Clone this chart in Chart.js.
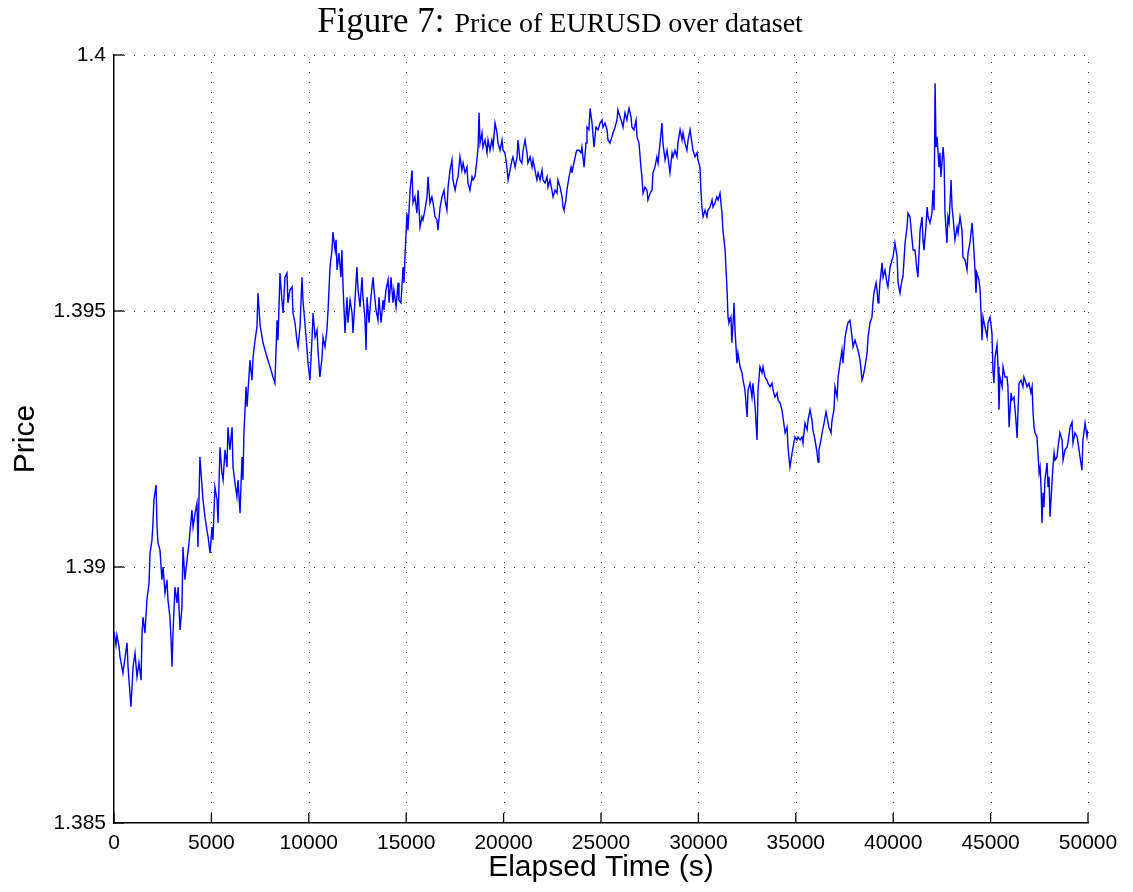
<!DOCTYPE html>
<html>
<head>
<meta charset="utf-8">
<script src="https://cdn.jsdelivr.net/npm/chart.js@4/dist/chart.umd.min.js"></script>
<style>
  html, body { margin: 0; padding: 0; background: #fff; }
  #wrap { width: 1133px; height: 892px; }
</style>
</head>
<body>
<div id="wrap"><canvas id="c" width="1133" height="892"></canvas></div>
<script>
// ---- Data ----
const titleLead = "Figure 7:";
const titleRest = "Price of EURUSD over dataset";
const xAxisTitle = "Elapsed Time (s)";
const yAxisTitle = "Price";

const xTickValues = [0, 5000, 10000, 15000, 20000, 25000, 30000, 35000, 40000, 45000, 50000];
const xTickLabels = ["0", "5000", "10000", "15000", "20000", "25000", "30000", "35000", "40000", "45000", "50000"];
const yTickValues = [1.385, 1.39, 1.395, 1.4];
const yTickLabels = ["1.385", "1.39", "1.395", "1.4"];

// elapsed time (s)
const times = [
0,100,150,260,310,460,670,720,870,980,1080,1180,1280,1390,1440,1490,1590,1690,1800,1850,
1950,2000,2050,2160,2210,2260,2360,2460,2520,2620,2720,2770,2870,2930,2980,3030,3130,3230,3290,3390,
3490,3540,3640,3750,3850,4000,4060,4160,4260,4310,4410,4520,4570,4670,4770,4830,4930,5030,5080,5180,
5290,5340,5440,5540,5600,5700,5800,5850,5950,6060,6110,6210,6310,6370,6470,6570,6620,6670,6780,6830,
6980,7080,7140,7240,7340,7390,7500,7650,7850,8010,8160,8260,8370,8420,8520,8620,8680,8780,8880,8930,
9030,9140,9190,9290,9390,9450,9550,9650,9700,9800,9910,9960,10060,10160,10220,10320,10420,10470,10570,10680,
10730,10830,10930,10990,11090,11190,11240,11350,11400,11450,11550,11650,11700,11760,11860,11960,12010,12120,12220,12270,
12370,12470,12530,12630,12730,12780,12880,12940,12990,13090,13190,13300,13350,13450,13550,13600,13710,13810,13860,13960,
14070,14120,14220,14320,14370,14480,14580,14630,14730,14840,14890,14940,15040,15090,15200,15300,15350,15450,15550,15610,
15710,15810,15860,15960,16070,16120,16220,16320,16380,16480,16580,16630,16740,16840,16940,16990,17090,17150,17250,17350,
17400,17510,17610,17660,17760,17860,17920,18020,18120,18170,18270,18380,18430,18530,18630,18690,18740,18790,18890,18940,
19050,19150,19200,19300,19400,19460,19560,19660,19710,19820,19920,19970,20070,20170,20230,20330,20430,20480,20590,20690,
20740,20840,20940,21000,21100,21200,21250,21360,21460,21510,21610,21710,21770,21870,21970,22020,22130,22230,22280,22380,
22480,22540,22640,22740,22790,22900,23000,23050,23100,23200,23250,23360,23460,23510,23610,23720,23770,23870,23970,24020,
24130,24230,24280,24380,24440,24540,24640,24740,24850,24950,25050,25100,25210,25310,25360,25460,25560,25620,25720,25820,
25870,25980,26080,26130,26230,26330,26390,26440,26540,26590,26690,26800,26850,26950,27050,27100,27160,27260,27360,27410,
27520,27620,27670,27770,27870,27930,28030,28130,28180,28290,28390,28440,28540,28650,28700,28800,28900,28950,29060,29160,
29210,29310,29410,29470,29570,29670,29720,29830,29930,29980,30080,30130,30180,30240,30340,30440,30490,30600,30700,30750,
30850,30950,31010,31110,31210,31260,31370,31420,31470,31520,31570,31670,31720,31780,31830,31880,31980,32030,32140,32240,
32290,32390,32500,32550,32650,32750,32800,32910,33010,33060,33160,33270,33320,33420,33520,33570,33680,33780,33830,33930,
34040,34090,34190,34290,34340,34450,34550,34600,34700,34810,34860,34960,35060,35110,35220,35320,35370,35470,35580,35630,
35730,35830,35880,35990,36090,36140,36190,36290,36350,36450,36550,36600,36700,36810,36860,36960,37010,37120,37170,37270,
37370,37420,37530,37630,37680,37780,37890,37940,38040,38140,38190,38300,38400,38450,38550,38660,38710,38810,38910,38960,
39010,39120,39170,39220,39270,39320,39430,39480,39580,39680,39730,39840,39940,39990,40090,40200,40250,40350,40450,40500,
40610,40710,40760,40860,40970,41020,41120,41220,41270,41380,41480,41530,41580,41680,41740,41790,41890,41990,42040,42100,
42150,42200,42250,42350,42400,42450,42560,42610,42660,42760,42810,42870,42970,43020,43070,43170,43280,43330,43430,43530,
43580,43690,43790,43840,43940,44050,44100,44200,44250,44300,44400,44460,44510,44560,44610,44710,44820,44870,44970,45070,
45120,45170,45230,45330,45380,45430,45480,45590,45640,45740,45840,45890,45950,46050,46100,46200,46300,46360,46410,46460,
46560,46660,46710,46820,46870,46970,47070,47130,47180,47230,47280,47380,47430,47490,47540,47590,47640,47690,47740,47790,
47900,47950,48000,48050,48150,48200,48260,48310,48410,48460,48560,48670,48720,48820,48920,48970,49080,49180,49230,49330,
49440,49490,49590,49690,49740,49850,49950,50000
];

// EURUSD price
const prices = [
1.38873,1.38848,1.38867,1.38844,1.38824,1.38793,1.38852,1.38805,1.38727,1.38805,1.38832,1.38785,1.38813,1.38779,1.38871,1.38902,1.38871,1.38936,1.38969,1.39027,
1.39053,1.39086,1.39131,1.39160,1.39078,1.39047,1.39033,1.38975,1.39000,1.38949,1.38975,1.38936,1.38902,1.38857,1.38805,1.38871,1.38961,1.38930,1.38961,1.38877,
1.38922,1.39039,1.38975,1.39014,1.39047,1.39111,1.39078,1.39105,1.39125,1.39039,1.39215,1.39156,1.39131,1.39098,1.39072,1.39059,1.39027,1.39078,1.39053,1.39156,
1.39131,1.39086,1.39234,1.39184,1.39170,1.39229,1.39195,1.39273,1.39229,1.39273,1.39195,1.39164,1.39137,1.39170,1.39105,1.39215,1.39170,1.39262,1.39352,1.39313,
1.39404,1.39365,1.39410,1.39443,1.39469,1.39535,1.39473,1.39438,1.39410,1.39391,1.39371,1.39359,1.39482,1.39443,1.39574,1.39521,1.39496,1.39566,1.39574,1.39516,
1.39541,1.39547,1.39496,1.39477,1.39443,1.39430,1.39469,1.39566,1.39521,1.39477,1.39424,1.39398,1.39365,1.39443,1.39496,1.39449,1.39463,1.39424,1.39371,1.39410,
1.39449,1.39430,1.39463,1.39502,1.39586,1.39619,1.39654,1.39619,1.39639,1.39580,1.39613,1.39566,1.39619,1.39547,1.39457,1.39527,1.39477,1.39521,1.39496,1.39457,
1.39521,1.39586,1.39541,1.39508,1.39566,1.39527,1.39488,1.39424,1.39527,1.39477,1.39527,1.39566,1.39541,1.39502,1.39482,1.39527,1.39477,1.39521,1.39502,1.39541,
1.39561,1.39516,1.39566,1.39516,1.39541,1.39508,1.39555,1.39521,1.39516,1.39586,1.39555,1.39609,1.39691,1.39658,1.39736,1.39775,1.39711,1.39723,1.39691,1.39736,
1.39664,1.39684,1.39678,1.39697,1.39723,1.39762,1.39711,1.39723,1.39711,1.39684,1.39678,1.39658,1.39703,1.39723,1.39736,1.39717,1.39697,1.39742,1.39775,1.39795,
1.39756,1.39736,1.39756,1.39762,1.39801,1.39775,1.39789,1.39770,1.39781,1.39750,1.39736,1.39762,1.39756,1.39762,1.39795,1.39820,1.39887,1.39828,1.39848,1.39820,
1.39834,1.39809,1.39834,1.39814,1.39834,1.39820,1.39867,1.39848,1.39828,1.39814,1.39834,1.39814,1.39809,1.39781,1.39756,1.39775,1.39795,1.39801,1.39781,1.39801,
1.39834,1.39795,1.39789,1.39814,1.39834,1.39809,1.39789,1.39801,1.39781,1.39795,1.39775,1.39756,1.39770,1.39756,1.39775,1.39756,1.39750,1.39762,1.39742,1.39756,
1.39736,1.39723,1.39736,1.39730,1.39756,1.39742,1.39723,1.39703,1.39697,1.39717,1.39736,1.39762,1.39781,1.39770,1.39789,1.39809,1.39814,1.39814,1.39809,1.39820,
1.39781,1.39828,1.39859,1.39854,1.39896,1.39867,1.39820,1.39859,1.39854,1.39867,1.39873,1.39859,1.39867,1.39854,1.39834,1.39828,1.39840,1.39848,1.39859,1.39873,
1.39893,1.39879,1.39867,1.39859,1.39887,1.39873,1.39887,1.39896,1.39879,1.39859,1.39854,1.39873,1.39840,1.39828,1.39781,1.39762,1.39730,1.39742,1.39736,1.39717,
1.39730,1.39736,1.39770,1.39781,1.39801,1.39789,1.39828,1.39867,1.39828,1.39795,1.39814,1.39801,1.39770,1.39809,1.39801,1.39814,1.39801,1.39828,1.39854,1.39834,
1.39848,1.39828,1.39814,1.39834,1.39854,1.39828,1.39814,1.39801,1.39809,1.39795,1.39781,1.39736,1.39703,1.39684,1.39697,1.39684,1.39697,1.39703,1.39717,1.39703,
1.39711,1.39723,1.39717,1.39730,1.39691,1.39658,1.39619,1.39580,1.39541,1.39488,1.39477,1.39488,1.39438,1.39477,1.39516,1.39463,1.39398,1.39418,1.39391,1.39379,
1.39365,1.39346,1.39293,1.39346,1.39359,1.39332,1.39359,1.39313,1.39248,1.39346,1.39391,1.39379,1.39391,1.39371,1.39365,1.39359,1.39352,1.39359,1.39346,1.39332,
1.39340,1.39326,1.39320,1.39307,1.39293,1.39262,1.39273,1.39234,1.39195,1.39223,1.39234,1.39254,1.39248,1.39254,1.39248,1.39254,1.39242,1.39281,1.39268,1.39287,
1.39307,1.39287,1.39268,1.39248,1.39223,1.39205,1.39229,1.39248,1.39262,1.39281,1.39303,1.39293,1.39273,1.39262,1.39287,1.39307,1.39352,1.39332,1.39371,1.39398,
1.39424,1.39398,1.39449,1.39469,1.39477,1.39482,1.39449,1.39430,1.39443,1.39430,1.39424,1.39404,1.39365,1.39371,1.39391,1.39418,1.39449,1.39477,1.39488,1.39516,
1.39535,1.39555,1.39541,1.39516,1.39527,1.39555,1.39594,1.39566,1.39580,1.39555,1.39547,1.39586,1.39600,1.39605,1.39633,1.39605,1.39555,1.39535,1.39561,1.39566,
1.39633,1.39664,1.39691,1.39684,1.39639,1.39619,1.39619,1.39580,1.39566,1.39658,1.39684,1.39639,1.39619,1.39664,1.39703,1.39684,1.39672,1.39691,1.39736,1.39697,
1.39945,1.39820,1.39840,1.39781,1.39809,1.39762,1.39820,1.39795,1.39691,1.39633,1.39684,1.39672,1.39756,1.39703,1.39684,1.39639,1.39664,1.39652,1.39684,1.39658,
1.39605,1.39600,1.39580,1.39613,1.39633,1.39672,1.39645,1.39580,1.39535,1.39574,1.39561,1.39541,1.39496,1.39443,1.39488,1.39469,1.39449,1.39477,1.39488,1.39457,
1.39385,1.39359,1.39410,1.39434,1.39391,1.39307,1.39371,1.39352,1.39391,1.39371,1.39371,1.39352,1.39273,1.39340,1.39326,1.39332,1.39287,1.39252,1.39307,1.39359,
1.39365,1.39352,1.39371,1.39359,1.39352,1.39359,1.39340,1.39352,1.39301,1.39273,1.39262,1.39254,1.39223,1.39184,1.39195,1.39156,1.39086,1.39145,1.39117,1.39170,
1.39203,1.39156,1.39176,1.39098,1.39164,1.39195,1.39223,1.39209,1.39215,1.39234,1.39262,1.39248,1.39209,1.39229,1.39234,1.39242,1.39273,1.39283,1.39242,1.39262,
1.39254,1.39242,1.39215,1.39189,1.39248,1.39281,1.39254,1.39268
];

// ---- Chart ----
const points = times.map((t, i) => ({ x: t, y: prices[i] }));

const gridAndTicks = {
  id: 'gridAndTicks',
  beforeDatasetsDraw(chart) {
    const { ctx, chartArea: a, scales: { x, y } } = chart;
    ctx.save();
    ctx.strokeStyle = '#3a3a3a';
    ctx.lineWidth = 1;
    ctx.setLineDash([1, 9]);
    xTickValues.forEach(v => {
      if (v === x.min) return;
      const px = Math.round(x.getPixelForValue(v)) + 0.5;
      ctx.beginPath(); ctx.moveTo(px, a.bottom); ctx.lineTo(px, a.top); ctx.stroke();
    });
    yTickValues.forEach(v => {
      if (Math.abs(v - y.min) < 1e-9) return;
      const py = Math.round(y.getPixelForValue(v)) + 0.5;
      ctx.beginPath(); ctx.moveTo(a.left, py); ctx.lineTo(a.right, py); ctx.stroke();
    });
    ctx.restore();
  },
  afterDatasetsDraw(chart) {
    const { ctx, chartArea: a, scales: { x, y } } = chart;
    ctx.save();
    ctx.strokeStyle = '#000';
    ctx.lineWidth = 1.3;
    ctx.setLineDash([]);
    const tl = 10;
    xTickValues.forEach(v => {
      const px = x.getPixelForValue(v);
      ctx.beginPath(); ctx.moveTo(px, a.bottom); ctx.lineTo(px, a.bottom - tl); ctx.stroke();
    });
    yTickValues.forEach(v => {
      const py = y.getPixelForValue(v);
      ctx.beginPath(); ctx.moveTo(a.left, py); ctx.lineTo(a.left + tl, py); ctx.stroke();
    });
    ctx.restore();
  },
  afterDraw(chart) {
    const ctx = chart.ctx;
    ctx.save();
    ctx.fillStyle = '#000';
    ctx.textBaseline = 'alphabetic';
    const f1 = '35px "Liberation Serif", "DejaVu Serif", serif';
    const f2 = '28px "Liberation Serif", "DejaVu Serif", serif';
    ctx.font = f1; const w1 = ctx.measureText(titleLead).width;
    ctx.font = f2; const w2 = ctx.measureText(titleRest).width;
    const gap = 10;
    const total = w1 + gap + w2;
    const x0 = 560 - total / 2;
    ctx.font = f1; ctx.textAlign = 'left';
    ctx.fillText(titleLead, x0, 32);
    ctx.font = f2;
    ctx.fillText(titleRest, x0 + w1 + gap, 32);
    ctx.restore();
  }
};

new Chart(document.getElementById('c'), {
  type: 'line',
  data: {
    datasets: [{
      data: points,
      borderColor: '#0000ff',
      borderWidth: 1.4,
      pointRadius: 0,
      tension: 0,
      fill: false
    }]
  },
  options: {
    responsive: false,
    animation: false,
    devicePixelRatio: 1,
    layout: { padding: { left: 0, right: 45, top: 55, bottom: 0 } },
    plugins: {
      legend: { display: false },
      tooltip: { enabled: false },
      title: { display: false }
    },
    scales: {
      x: {
        type: 'linear',
        min: 0, max: 50000,
        afterBuildTicks(scale) { scale.ticks = xTickValues.map(v => ({ value: v })); },
        afterFit(scale) { scale.height = 69; },
        grid: { display: false, drawTicks: false },
        border: { display: true, color: '#000', width: 1.5 },
        ticks: {
          padding: 8,
          color: '#000',
          maxRotation: 0,
          autoSkip: false,
          font: { family: '"Liberation Sans", Arial, sans-serif', size: 21 },
          callback: (v, i) => xTickLabels[i]
        },
        title: {
          display: true,
          text: xAxisTitle,
          color: '#000',
          font: { family: '"Liberation Sans", Arial, sans-serif', size: 30 },
          padding: { top: 0, bottom: 6 }
        }
      },
      y: {
        type: 'linear',
        min: 1.385, max: 1.4,
        afterBuildTicks(scale) { scale.ticks = yTickValues.map(v => ({ value: v })); },
        afterFit(scale) { scale.width = 114; },
        grid: { display: false, drawTicks: false },
        border: { display: true, color: '#000', width: 1.5 },
        ticks: {
          padding: 8,
          color: '#000',
          autoSkip: false,
          font: { family: '"Liberation Sans", Arial, sans-serif', size: 21 },
          callback: (v, i) => yTickLabels[i]
        },
        title: {
          display: true,
          text: yAxisTitle,
          color: '#000',
          font: { family: '"Liberation Sans", Arial, sans-serif', size: 30 },
          padding: { top: 8, bottom: 0 }
        }
      }
    }
  },
  plugins: [gridAndTicks]
});
</script>
</body>
</html>
